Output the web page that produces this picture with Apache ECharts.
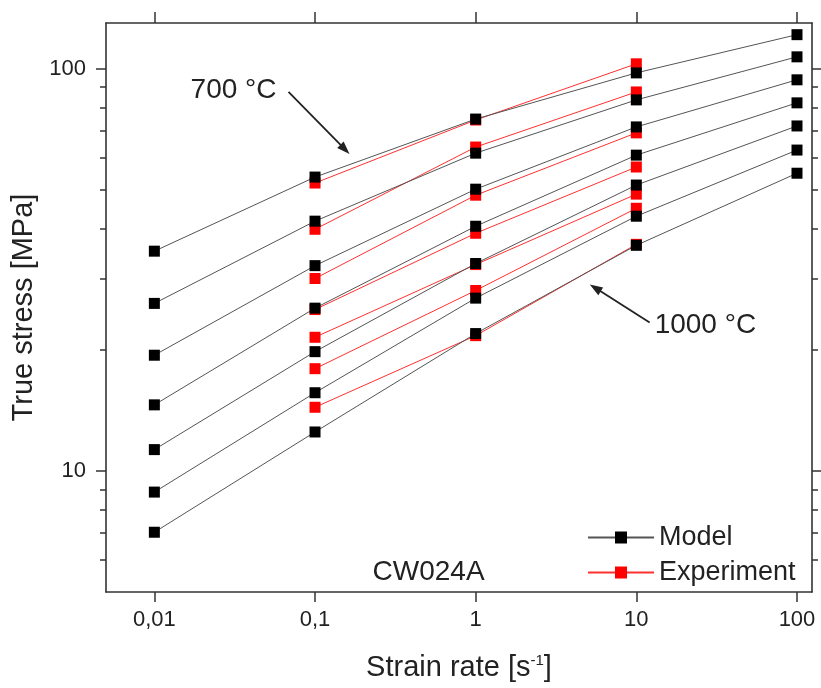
<!DOCTYPE html>
<html><head><meta charset="utf-8">
<script src="https://cdn.jsdelivr.net/npm/echarts@6/dist/echarts.min.js"></script>
<style>html,body{margin:0;padding:0;background:#fff}#c{width:821px;height:688px}</style>
</head><body><div id="c"></div>
<script>
// ---------- data ----------
const temperatures = ['700 °C', '750 °C', '800 °C', '850 °C', '900 °C', '950 °C', '1000 °C'];
const modelRates = [0.01, 0.1, 1, 10, 100];
const expRates = [0.1, 1, 10];

const model700  = [35.2, 53.8, 75.0, 97.7, 121.6];
const model750  = [26.1, 41.8, 61.7, 83.7, 107.1];
const model800  = [19.4, 32.4, 50.2, 71.7, 93.9];
const model850  = [14.6, 25.4, 40.6, 61.0, 82.3];
const model900  = [11.3, 19.8, 32.8, 51.4, 72.1];
const model950  = [8.86, 15.65, 26.9, 43.0, 62.8];
const model1000 = [7.04, 12.5, 21.96, 36.4, 55.0];

const exp700  = [52.0, 74.6, 102.9];
const exp750  = [39.9, 63.9, 87.6];
const exp800  = [30.1, 48.5, 69.3];
const exp850  = [25.2, 39.0, 57.0];
const exp900  = [21.5, 32.6, 48.8];
const exp950  = [17.96, 28.1, 45.0];
const exp1000 = [14.4, 21.7, 36.6];

const xTickValues = [0.01, 0.1, 1, 10, 100];
const xTickLabels = ['0,01', '0,1', '1', '10', '100'];
const yMajorTicks = [10, 100];
const yMajorLabels = ['10', '100'];
const yMinorTicks = [6, 7, 8, 9, 20, 30, 40, 50, 60, 70, 80, 90];
const xRange = [0.005, 124];
const yRange = [5, 130];

// ---------- chart ----------
const lg = Math.log10;
const modelSets = [model700, model750, model800, model850, model900, model950, model1000];
const expSets = [exp700, exp750, exp800, exp850, exp900, exp950, exp1000];
const FONT = 'Liberation Sans, Arial, sans-serif';
const TXT = '#222';

function labelFrom(values, labels) {
  return function (v) {
    const i = values.findIndex(t => Math.abs(lg(t) - v) < 1e-6);
    return i >= 0 ? labels[i] : '';
  };
}

const series = [];
modelSets.forEach((vals, i) => {
  series.push({
    type: 'line', name: 'Model', id: 'model-' + temperatures[i],
    xAxisIndex: 0, yAxisIndex: 0, z: 4,
    data: modelRates.map((r, j) => [lg(r), lg(vals[j])]),
    symbol: 'rect', symbolSize: 11,
    itemStyle: { color: '#000' },
    lineStyle: { color: '#555', width: 1 },
    emphasis: { disabled: true }
  });
});
expSets.forEach((vals, i) => {
  series.push({
    type: 'line', name: 'Experiment', id: 'exp-' + temperatures[i],
    xAxisIndex: 0, yAxisIndex: 0, z: 3,
    data: expRates.map((r, j) => [lg(r), lg(vals[j])]),
    symbol: 'rect', symbolSize: 11,
    itemStyle: { color: '#ff0000' },
    lineStyle: { color: '#ff3030', width: 1 },
    emphasis: { disabled: true }
  });
});

const axisLine = { show: true, onZero: false, lineStyle: { color: '#333', width: 1.6 } };
const noLine = { show: false, onZero: false };
const tickStyle = { color: '#333', width: 1.5 };
const xLog = xTickValues.map(lg);
const yMajLog = yMajorTicks.map(lg);
const yMinLog = yMinorTicks.map(lg);

const option = {
  animation: false,
  backgroundColor: '#fff',
  grid: { left: 106, right: 9, top: 23, bottom: 96, outerBoundsMode: 'none', containLabel: false },
  legend: {
    data: ['Model', 'Experiment'],
    orient: 'vertical', left: 582, top: 519,
    itemWidth: 66, itemHeight: 15, itemGap: 8,
    textStyle: { fontFamily: FONT, fontSize: 27, color: TXT, lineHeight: 27 },
    selectedMode: false
  },
  xAxis: [
    {
      type: 'value', position: 'bottom', min: lg(xRange[0]), max: lg(xRange[1]),
      axisLine: axisLine, splitLine: { show: false },
      axisTick: { show: true, inside: false, length: 10, lineStyle: tickStyle, customValues: xLog },
      axisLabel: { show: true, margin: 17, fontFamily: FONT, fontSize: 22, color: TXT,
        customValues: xLog, formatter: labelFrom(xTickValues, xTickLabels) },
      name: 'Strain rate [s{sup|-1}]', nameLocation: 'middle', nameGap: 61,
      nameTextStyle: { fontFamily: FONT, fontSize: 29, color: TXT,
        rich: { sup: { fontFamily: FONT, fontSize: 15, color: TXT, verticalAlign: 'top', lineHeight: 15 } } }
    },
    {
      type: 'value', position: 'top', min: lg(xRange[0]), max: lg(xRange[1]),
      axisLine: axisLine, splitLine: { show: false },
      axisTick: { show: true, inside: false, length: 11, lineStyle: tickStyle, customValues: xLog },
      axisLabel: { show: false, customValues: xLog }
    }
  ],
  yAxis: [
    {
      type: 'value', position: 'left', offset: 0, min: lg(yRange[0]), max: lg(yRange[1]),
      axisLine: axisLine, splitLine: { show: false },
      axisTick: { show: true, inside: false, length: 10, lineStyle: tickStyle, customValues: yMajLog },
      axisLabel: { show: true, margin: 20, fontFamily: FONT, fontSize: 22, color: TXT,
        customValues: yMajLog, formatter: labelFrom(yMajorTicks, yMajorLabels) },
      name: 'True stress [MPa]', nameLocation: 'middle', nameGap: 64, nameRotate: 90,
      nameTextStyle: { fontFamily: FONT, fontSize: 29, color: TXT }
    },
    {
      type: 'value', position: 'left', offset: 0, min: lg(yRange[0]), max: lg(yRange[1]),
      axisLine: noLine, splitLine: { show: false },
      axisTick: { show: true, inside: false, length: 6, lineStyle: tickStyle, customValues: yMinLog },
      axisLabel: { show: false, customValues: yMinLog }
    },
    {
      type: 'value', position: 'right', offset: 0, min: lg(yRange[0]), max: lg(yRange[1]),
      axisLine: axisLine, splitLine: { show: false },
      axisTick: { show: true, inside: false, length: 10, lineStyle: tickStyle, customValues: yMajLog },
      axisLabel: { show: false, customValues: yMajLog }
    },
    {
      type: 'value', position: 'right', offset: 0, min: lg(yRange[0]), max: lg(yRange[1]),
      axisLine: noLine, splitLine: { show: false },
      axisTick: { show: true, inside: false, length: 6, lineStyle: tickStyle, customValues: yMinLog },
      axisLabel: { show: false, customValues: yMinLog }
    }
  ],
  series: series
};

const chart = echarts.init(document.getElementById('c'), null, { renderer: 'canvas' });
chart.setOption(option);

// ---------- annotations (anchored in data space) ----------
function px(x, y) { return chart.convertToPixel({ xAxisIndex: 0, yAxisIndex: 0 }, [lg(x), lg(y)]); }
function arrow(tail, tip) {
  const dx = tip[0] - tail[0], dy = tip[1] - tail[1];
  const L = Math.hypot(dx, dy), ux = dx / L, uy = dy / L;
  const hl = 13, hw = 4.5;
  const bx = tip[0] - ux * hl, by = tip[1] - uy * hl;
  return [
    { type: 'line', silent: true, z: 10, shape: { x1: tail[0], y1: tail[1], x2: bx + ux * 2, y2: by + uy * 2 },
      style: { stroke: '#222', lineWidth: 1.8 } },
    { type: 'polygon', silent: true, z: 10, shape: { points: [tip, [bx - uy * hw, by + ux * hw], [bx + uy * hw, by - ux * hw]] },
      style: { fill: '#222' } }
  ];
}
const t700 = px(0.0684, 87.6), h700 = px(0.164, 61.4);
const t1000 = px(12.1, 23.4), h1000 = px(5.13, 29.1);
const tag = px(0.228, 5.6);
const graphics = [].concat(
  arrow(t700, h700),
  arrow(t1000, h1000),
  [
    { type: 'text', silent: true, z: 10, style: { text: temperatures[0], x: t700[0] - 12, y: t700[1] - 2,
      align: 'right', verticalAlign: 'middle', fontFamily: FONT, fontSize: 28, fill: TXT } },
    { type: 'text', silent: true, z: 10, style: { text: temperatures[6], x: t1000[0] + 5, y: t1000[1] + 3,
      align: 'left', verticalAlign: 'middle', fontFamily: FONT, fontSize: 28, fill: TXT } },
    { type: 'text', silent: true, z: 10, style: { text: 'CW024A', x: tag[0], y: tag[1],
      align: 'left', verticalAlign: 'middle', fontFamily: FONT, fontSize: 28, fill: TXT } }
  ]
);
chart.setOption({ graphic: graphics });
</script>
</body></html>
